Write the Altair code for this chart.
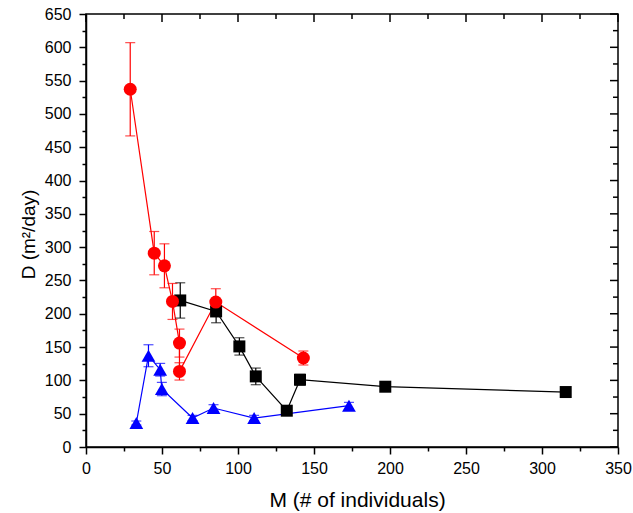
import altair as alt
import pandas as pd

# ---- data ----
series = ["Total population", "Males", "Females"]
colors = ["#000000", "#ff0000", "#0000ff"]

total_x = [62.0, 85.6, 100.9, 111.7, 132.1, 140.8, 196.9, 315.6]
total_y = [220.0, 203.5, 151.0, 106.0, 54.5, 101.0, 90.5, 82.5]
total_err = [26.5, 17.0, 13.0, 12.5, 4.0, 8.0, 4.0, 4.0]

males_x = [29.1, 44.9, 51.6, 56.9, 61.5, 61.5, 85.4, 143.0]
males_y = [537.0, 291.0, 272.0, 218.5, 156.0, 113.5, 217.6, 133.6]
males_err = [70.0, 32.5, 33.0, 27.0, 21.0, 13.0, 20.0, 10.5]

females_x = [33.1, 41.1, 48.8, 49.9, 70.1, 83.9, 110.6, 173.0]
females_y = [36.0, 137.0, 116.0, 87.0, 43.5, 58.5, 43.5, 62.0]
females_err = [3.0, 16.5, 9.5, 10.0, 4.0, 5.0, 4.0, 5.0]

x_major = list(range(0, 351, 50))
x_minor = list(range(25, 351, 50))
y_major = list(range(0, 651, 50))
y_minor = list(range(25, 651, 50))

marker_shapes = ["square", "circle", "triangle-up"]
marker_sizes = [144, 169, 190]
legend_paths = [
    "M-3.75,0H3.75M-1,-1H1V1H-1Z",
    "M-3.75,0H3.75M-1.08,0A1.08,1.08,0,1,0,1.08,0A1.08,1.08,0,1,0,-1.08,0Z",
    "M-3.75,0H3.75M0,-1.15L1.15,0.95H-1.15Z",
]

rows = []
for s, xs, ys, es in zip(series, [total_x, males_x, females_x],
                         [total_y, males_y, females_y],
                         [total_err, males_err, females_err]):
    for i, (x, y, e) in enumerate(zip(xs, ys, es)):
        rows.append({"series": s, "x": x, "y": y, "lo": y - e, "hi": y + e, "order": i})
df = pd.DataFrame(rows)

W, H = 532, 433
FONT = "Liberation Sans, Arial, sans-serif"
xscale = alt.Scale(domain=[0, 350], nice=False, zero=False)
yscale = alt.Scale(domain=[0, 650], nice=False, zero=False)
cscale = alt.Scale(domain=series, range=colors)

x_bottom = alt.Axis(orient="bottom", values=x_major, tickSize=7,
                    labelPadding=6, labelFlush=False, labelOverlap=False,
                    title="M (# of individuals)", titleBaseline="alphabetic",
                    titleY=59, titleX=271, titleFontSize=21)
y_left = alt.Axis(orient="left", values=y_major, tickSize=7,
                  labelPadding=8, labelOverlap=False,
                  title="D (m²/day)", titleBaseline="alphabetic", titleX=-52, titleY=220,
                  titleFontSize=19)
x_bottom_minor = alt.Axis(orient="bottom", values=x_minor, tickSize=4,
                          labels=False, domain=False, title=None)
y_left_minor = alt.Axis(orient="left", values=y_minor, tickSize=4,
                        labels=False, domain=False, title=None)

base = alt.Chart(df)

lines = base.mark_line(strokeWidth=1.2).encode(
    x=alt.X("x:Q", scale=xscale, axis=x_bottom),
    y=alt.Y("y:Q", scale=yscale, axis=y_left),
    color=alt.Color("series:N", scale=cscale, legend=None),
    order="order:Q",
)

rules = base.mark_rule(strokeWidth=1.2).encode(
    x=alt.X("x:Q", scale=xscale, axis=x_bottom_minor),
    y=alt.Y("lo:Q", scale=yscale, axis=y_left_minor),
    y2="hi:Q",
    color=alt.Color("series:N", scale=cscale, legend=None),
)

caps = base.transform_fold(["lo", "hi"], as_=["end", "yv"]).mark_tick(
    orient="horizontal", size=10, thickness=1.2
).encode(
    x=alt.X("x:Q", scale=xscale, axis=None),
    y=alt.Y("yv:Q", scale=yscale, axis=None),
    color=alt.Color("series:N", scale=cscale, legend=None),
)

point_layers = []
for s, c, shp, sz in zip(series, colors, marker_shapes, marker_sizes):
    point_layers.append(
        base.transform_filter(alt.datum.series == s).mark_point(
            shape=shp, filled=True, size=sz, opacity=1, color=c
        ).encode(
            x=alt.X("x:Q", scale=xscale, axis=None),
            y=alt.Y("y:Q", scale=yscale, axis=None),
        )
    )

# inward ticks on the top and right frame edges (mirror axes)
frame_ticks = []
for vals, length in [(x_major, 8), (x_minor, 5)]:
    frame_ticks.append(
        alt.Chart(pd.DataFrame({"v": vals})).mark_rule(color="black", strokeWidth=1.5).encode(
            x=alt.X("v:Q", scale=xscale, axis=None),
            y=alt.value(0), y2=alt.value(length),
        )
    )
for vals, length in [(y_major, 8), (y_minor, 5)]:
    frame_ticks.append(
        alt.Chart(pd.DataFrame({"v": vals})).mark_rule(color="black", strokeWidth=1.5).encode(
            y=alt.Y("v:Q", scale=yscale, axis=None),
            x=alt.value(W - length), x2=alt.value(W),
        )
    )

leg = alt.Legend(orient="none", legendX=268, legendY=37, title=None,
                 labelFont=FONT, labelFontSize=19, labelColor="black",
                 strokeColor="black", fillColor="white", padding=9,
                 symbolSize=144, symbolStrokeWidth=1.2, symbolOffset=16,
                 labelOffset=38, rowPadding=6)

legend_layer = base.mark_point(filled=True, size=0).encode(
    x=alt.X("x:Q", scale=xscale, axis=None),
    y=alt.Y("y:Q", scale=yscale, axis=None),
    shape=alt.Shape("series:N", scale=alt.Scale(domain=series, range=legend_paths), legend=leg),
    fill=alt.Fill("series:N", scale=alt.Scale(domain=series, range=colors), legend=leg),
    stroke=alt.Stroke("series:N", scale=alt.Scale(domain=series, range=colors), legend=leg),
)

chart = alt.layer(*frame_ticks, lines, rules, caps, *point_layers, legend_layer).resolve_axis(
    x="independent", y="independent"
).properties(
    width=W, height=H,
    autosize=alt.AutoSizeParams(type="none"),
    padding={"left": 86, "top": 14, "right": 15, "bottom": 66},
    background="white",
).configure_view(
    stroke="black", strokeWidth=1.5
).configure_axis(
    grid=False, domainColor="black", domainWidth=1.5, tickColor="black", tickWidth=1.5,
    labelFont=FONT, labelFontSize=16, labelColor="black",
    titleFont=FONT, titleFontSize=20, titleFontWeight="normal", titleColor="black",
)

chart.save("out.html", embed_options={"renderer": "svg", "actions": False})
